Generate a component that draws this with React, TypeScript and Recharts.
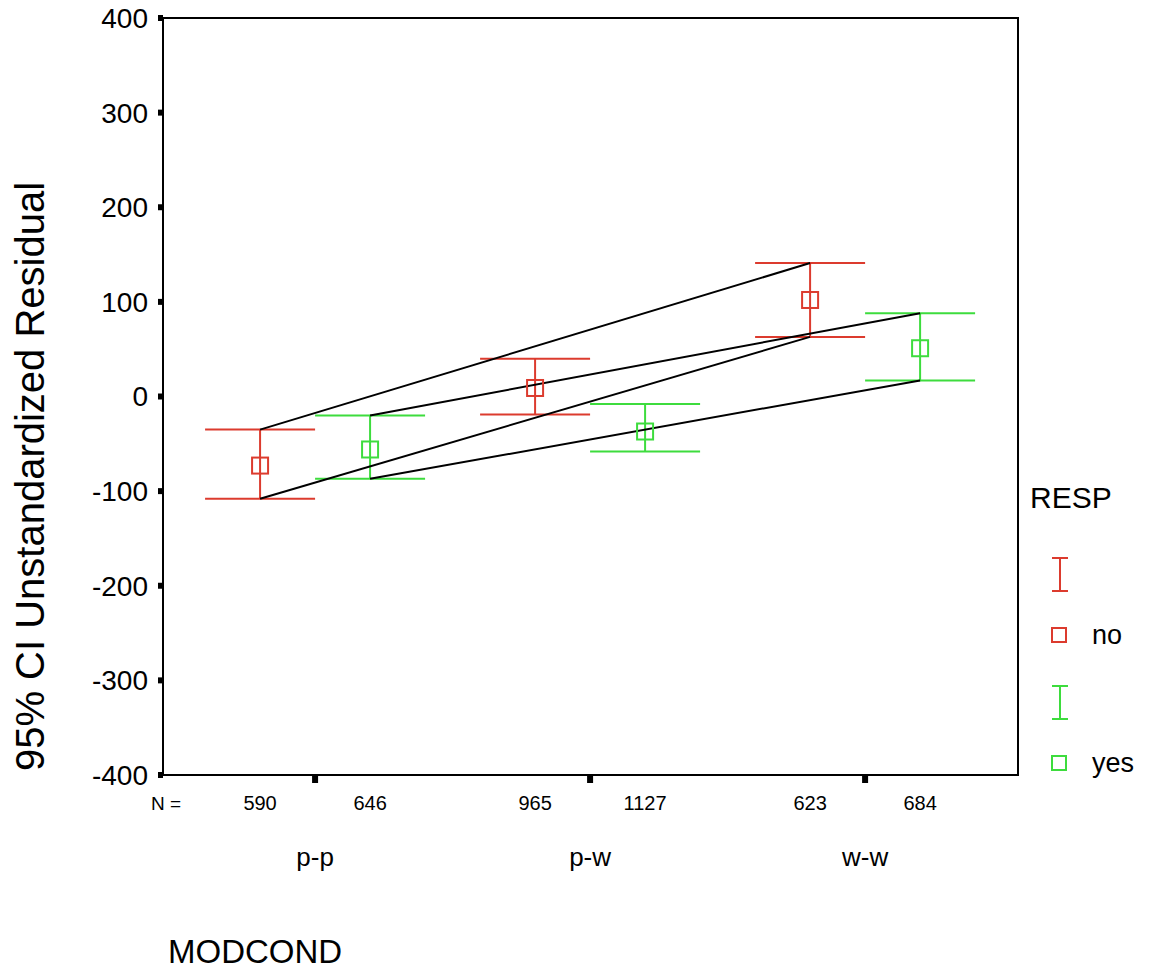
import React from 'react'
import {
    ComposedChart,
    Scatter,
    ErrorBar,
    XAxis,
    YAxis,
    ReferenceArea,
} from 'recharts'

// chart values
const categories: string[] = ['p-p', 'p-w', 'w-w']
const groups: string[] = ['no', 'yes']

const noCount: number[] = [590, 965, 623]
const yesCount: number[] = [646, 1127, 684]

const noMean: number[] = [-73, 9, 102]
const noLower: number[] = [-108, -19, 63]
const noUpper: number[] = [-35, 40, 141]

const yesMean: number[] = [-56, -37, 51]
const yesLower: number[] = [-87, -58, 17]
const yesUpper: number[] = [-20, -8, 88]

const yTicks: number[] = [-400, -300, -200, -100, 0, 100, 200, 300, 400]

// layout / style
const RED = '#dc3b2e'
const GREEN = '#3ddc3d'
const FONT = '"Liberation Sans", Arial, sans-serif'
const X_MIN = 0.447
const X_MAX = 3.556
const GROUP_OFFSET = 0.2

const buildPoints = (mean: number[], lower: number[], upper: number[], count: number[], shift: number) =>
    mean.map((m, i) => ({
        x: i + 1 + shift,
        y: m,
        err: [m - lower[i], upper[i] - m],
        n: count[i],
    }))

const noPoints = buildPoints(noMean, noLower, noUpper, noCount, -GROUP_OFFSET)
const yesPoints = buildPoints(yesMean, yesLower, yesUpper, yesCount, GROUP_OFFSET)

// the black connecting lines go from the first to the last category bounds
const last = categories.length - 1
const boundLines = [
    [{ x: 1 - GROUP_OFFSET, y: noUpper[0] }, { x: last + 1 - GROUP_OFFSET, y: noUpper[last] }],
    [{ x: 1 - GROUP_OFFSET, y: noLower[0] }, { x: last + 1 - GROUP_OFFSET, y: noLower[last] }],
    [{ x: 1 + GROUP_OFFSET, y: yesUpper[0] }, { x: last + 1 + GROUP_OFFSET, y: yesUpper[last] }],
    [{ x: 1 + GROUP_OFFSET, y: yesLower[0] }, { x: last + 1 + GROUP_OFFSET, y: yesLower[last] }],
]

const nTicks = [
    ...categories.map((_, i) => ({ pos: i + 1, label: '' })),
    ...noPoints.map((p) => ({ pos: p.x, label: String(p.n) })),
    ...yesPoints.map((p) => ({ pos: p.x, label: String(p.n) })),
].sort((a, b) => a.pos - b.pos)

const NTick = (props: any) => {
    const { x, y, payload } = props
    const t = nTicks.find((k) => Math.abs(k.pos - payload.value) < 1e-6)
    if (!t || t.label === '') {
        return <rect x={x - 3} y={y + 1} width={6} height={7} fill="#000" />
    }
    return (
        <text x={x} y={y + 35} textAnchor="middle" fontSize={20} fontFamily={FONT} fill="#000">
            {t.label}
        </text>
    )
}

const CatTick = (props: any) => {
    const { x, y, payload } = props
    return (
        <text x={x} y={y + 46} textAnchor="middle" fontSize={26} fontFamily={FONT} fill="#000">
            {categories[Math.round(payload.value) - 1]}
        </text>
    )
}

const Square = (color: string) => (props: any) => {
    const { cx, cy } = props
    return <rect x={cx - 8} y={cy - 8} width={16} height={16} fill="none" stroke={color} strokeWidth={2} />
}

const Nothing = () => <g />

const Legend: React.FC = () => (
    <svg width={1150} height={972} style={{ position: 'absolute', left: 0, top: 0, pointerEvents: 'none' }}>
        <text x={1030} y={508} fontSize={30} fontFamily={FONT} fill="#000">RESP</text>
        {groups.map((g, i) => {
            const color = i === 0 ? RED : GREEN
            const top = 558 + i * 128
            return (
                <g key={g}>
                    <line x1={1060} y1={top} x2={1060} y2={top + 33} stroke={color} strokeWidth={2} />
                    <line x1={1052} y1={top} x2={1068} y2={top} stroke={color} strokeWidth={2} />
                    <line x1={1052} y1={top + 33} x2={1068} y2={top + 33} stroke={color} strokeWidth={2} />
                    <rect x={1052} y={top + 70} width={14} height={14} fill="none" stroke={color} strokeWidth={2} />
                    <text x={1092} y={top + 86} fontSize={27} fontFamily={FONT} fill="#000">{g}</text>
                </g>
            )
        })}
    </svg>
)

const App: React.FC = () => {
    return (
        <div style={{ position: 'absolute', left: 0, top: 0, width: 1150, height: 972, background: '#fff' }}>
            <ComposedChart
                width={1150}
                height={972}
                margin={{ top: 18, right: 132, left: 0, bottom: 2 }}
            >
                <XAxis
                    xAxisId="b"
                    type="number"
                    dataKey="x"
                    domain={[X_MIN, X_MAX]}
                    allowDataOverflow
                    ticks={categories.map((_, i) => i + 1)}
                    interval={0}
                    axisLine={false}
                    tickLine={false}
                    tickSize={0}
                    tickMargin={0}
                    height={150}
                    tick={<CatTick />}
                    label={{
                        content: (p: any) => (
                            <text x={p.viewBox.x + 5} y={p.viewBox.y + 143} fontSize={33} fontFamily={FONT} fill="#000">
                                MODCOND
                            </text>
                        ),
                    }}
                />
                <XAxis
                    xAxisId="a"
                    type="number"
                    dataKey="x"
                    domain={[X_MIN, X_MAX]}
                    allowDataOverflow
                    ticks={nTicks.map((t) => t.pos)}
                    interval={0}
                    axisLine={false}
                    tickLine={false}
                    tickSize={0}
                    tickMargin={0}
                    height={45}
                    tick={<NTick />}
                    label={{
                        content: (p: any) => (
                            <text x={p.viewBox.x + 3} y={p.viewBox.y + 35} textAnchor="middle" fontSize={19} fontFamily={FONT} fill="#000">
                                N =
                            </text>
                        ),
                    }}
                />
                <YAxis
                    type="number"
                    domain={[-400, 400]}
                    ticks={yTicks}
                    interval={0}
                    width={163}
                    axisLine={false}
                    tickSize={5}
                    tickMargin={10}
                    tickLine={{ stroke: '#000', strokeWidth: 6 }}
                    tick={{ fill: '#000', fontSize: 28, fontFamily: FONT }}
                    label={{
                        content: (p: any) => {
                            const cx = p.viewBox.x + 30
                            const cy = p.viewBox.y + p.viewBox.height / 2 + 80
                            return (
                                <text
                                    x={cx}
                                    y={cy}
                                    transform={`rotate(-90 ${cx} ${cy})`}
                                    textAnchor="middle"
                                    dominantBaseline="central"
                                    fontSize={40}
                                    fontFamily={FONT}
                                    fill="#000"
                                >
                                    95% CI Unstandardized Residual
                                </text>
                            )
                        },
                    }}
                />
                <ReferenceArea
                    xAxisId="a"
                    x1={X_MIN}
                    x2={X_MAX}
                    y1={-400}
                    y2={400}
                    fill="none"
                    fillOpacity={0}
                    stroke="#000"
                    strokeWidth={2}
                    ifOverflow="visible"
                />
                {boundLines.map((pts, i) => (
                    <Scatter
                        key={i}
                        xAxisId="b"
                        data={pts}
                        dataKey="y"
                        line={{ stroke: '#000', strokeWidth: 2 }}
                        shape={<Nothing />}
                        isAnimationActive={false}
                    />
                ))}
                <Scatter xAxisId="a" data={noPoints} dataKey="y" shape={Square(RED)} isAnimationActive={false}>
                    <ErrorBar dataKey="err" direction="y" width={55} stroke={RED} strokeWidth={2} isAnimationActive={false} />
                </Scatter>
                <Scatter xAxisId="a" data={yesPoints} dataKey="y" shape={Square(GREEN)} isAnimationActive={false}>
                    <ErrorBar dataKey="err" direction="y" width={55} stroke={GREEN} strokeWidth={2} isAnimationActive={false} />
                </Scatter>
            </ComposedChart>
            <Legend />
        </div>
    )
}

export default App
